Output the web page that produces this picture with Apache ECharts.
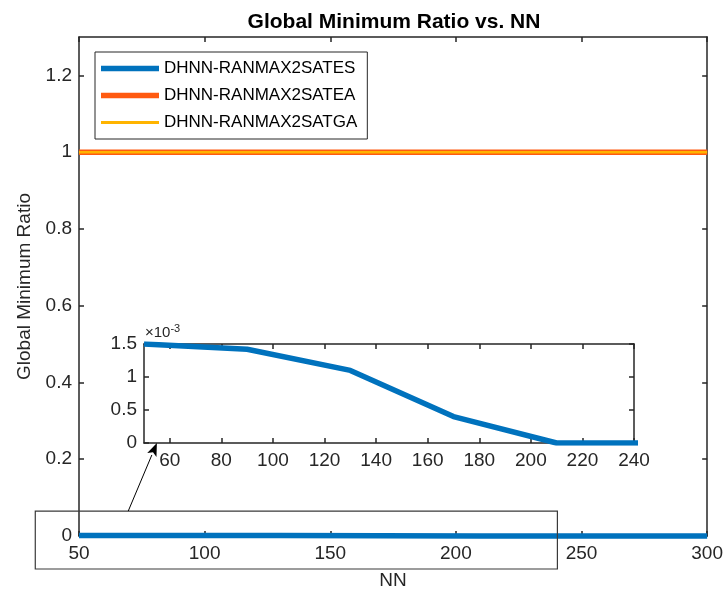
<!DOCTYPE html>
<html>
<head>
<meta charset="utf-8">
<script src="https://cdn.jsdelivr.net/npm/echarts@6/dist/echarts.min.js"></script>
<style>html,body{margin:0;padding:0;background:#fff}#c{width:726px;height:596px}</style>
</head>
<body>
<div id="c"></div>
<script>
const NN = [50, 90, 130, 170, 210, 250, 300];
const ES = [0.0015, 0.00142, 0.0011, 0.0004, 0, 0, 0];
const EA = [1, 1, 1, 1, 1, 1, 1];
const GA = [1, 1, 1, 1, 1, 1, 1];
const seriesNames = ['DHNN-RANMAX2SATES', 'DHNN-RANMAX2SATEA', 'DHNN-RANMAX2SATGA'];
const xTicks = [50, 100, 150, 200, 250, 300];
const yTicks = [0, 0.2, 0.4, 0.6, 0.8, 1, 1.2];
const insetXTicks = [60, 80, 100, 120, 140, 160, 180, 200, 220, 240];
const insetYTicks = [0, 0.0005, 0.001, 0.0015];

const FONT = 'Liberation Sans, Arial, Helvetica, sans-serif';
const AX = '#262626';
const BLUE = '#0072BD', ORANGE = '#FF5A10', YELLOW = '#FFB400';

const pairs = (xs, ys) => xs.map((x, i) => [x, ys[i]]);

function xAxisCfg(grid, pos, min, max, ticks, showLabels, extra) {
  return Object.assign({
    type: 'value', gridIndex: grid, position: pos, min: min, max: max,
    axisLine: { show: true, onZero: false, lineStyle: { color: AX, width: 1.5 } },
    axisTick: { show: true, inside: true, length: 5, customValues: ticks, lineStyle: { color: AX, width: 1.5 } },
    axisLabel: { show: showLabels, customValues: ticks, color: AX, fontSize: 19, fontFamily: FONT, margin: 8 },
    splitLine: { show: false }
  }, extra || {});
}
function yAxisCfg(grid, pos, min, max, ticks, showLabels, fmt, extra) {
  return Object.assign({
    type: 'value', gridIndex: grid, position: pos, min: min, max: max,
    axisLine: { show: true, onZero: false, lineStyle: { color: AX, width: 1.5 } },
    axisTick: { show: true, inside: true, length: 5, customValues: ticks, lineStyle: { color: AX, width: 1.5 } },
    axisLabel: { show: showLabels, customValues: ticks, color: AX, fontSize: 19, fontFamily: FONT, margin: 7, formatter: fmt },
    splitLine: { show: false }
  }, extra || {});
}

const chart = echarts.init(document.getElementById('c'), null, { renderer: 'canvas' });
const option = {
  animation: false,
  backgroundColor: '#fff',
  title: {
    text: 'Global Minimum Ratio vs. NN', left: 389, top: 7, textAlign: 'center',
    textStyle: { fontFamily: FONT, fontSize: 21, fontWeight: 'bold', color: '#000' }
  },
  legend: {
    left: 95, top: 52, orient: 'vertical', symbolKeepAspect: true,
    data: [
      { name: seriesNames[0], icon: 'path://M0,0 L58,0 L58,5.5 L0,5.5 Z' },
      { name: seriesNames[1], icon: 'path://M0,0 L58,0 L58,5.5 L0,5.5 Z' },
      { name: seriesNames[2], icon: 'path://M0,0 L58,0 L58,3 L0,3 Z' }
    ],
    itemWidth: 58, itemHeight: 14, itemGap: 10, itemTextGap: 5,
    padding: [8, 10, 8, 6], borderColor: AX, borderWidth: 1, backgroundColor: '#fff',
    textStyle: { fontFamily: FONT, fontSize: 17, color: '#000' }
  },
  grid: [
    { left: 79, right: 15, top: 37, bottom: 60 },
    { left: 144, right: 92, top: 344, bottom: 153 }
  ],
  xAxis: [
    xAxisCfg(0, 'bottom', 50, 300, xTicks, true, {
      name: 'NN', nameLocation: 'middle', nameGap: 35,
      nameTextStyle: { fontFamily: FONT, fontSize: 19, color: AX }
    }),
    xAxisCfg(0, 'top', 50, 300, xTicks, false),
    xAxisCfg(1, 'bottom', 50, 240, insetXTicks, true, {}),
    xAxisCfg(1, 'top', 50, 240, insetXTicks, false)
  ],
  yAxis: [
    yAxisCfg(0, 'left', 0, 1.3, yTicks, true, v => String(+v.toFixed(1)), {
      name: 'Global Minimum Ratio', nameLocation: 'middle', nameGap: 44,
      nameTextStyle: { fontFamily: FONT, fontSize: 19, color: AX }
    }),
    yAxisCfg(0, 'right', 0, 1.3, yTicks, false),
    yAxisCfg(1, 'left', 0, 0.0015, insetYTicks, true, v => String(+(v * 1000).toFixed(1))),
    yAxisCfg(1, 'right', 0, 0.0015, insetYTicks, false)
  ],
  series: [
    { name: seriesNames[1], type: 'line', xAxisIndex: 0, yAxisIndex: 0, data: pairs(NN, EA),
      symbol: 'none', clip: false, lineStyle: { color: ORANGE, width: 5.5 }, itemStyle: { color: ORANGE }, z: 2 },
    { name: seriesNames[2], type: 'line', xAxisIndex: 0, yAxisIndex: 0, data: pairs(NN, GA),
      symbol: 'none', clip: false, lineStyle: { color: YELLOW, width: 2.5 }, itemStyle: { color: YELLOW }, z: 3 },
    { name: seriesNames[0], type: 'line', xAxisIndex: 0, yAxisIndex: 0, data: pairs(NN, ES),
      symbol: 'none', clip: false, lineStyle: { color: BLUE, width: 5.5 }, itemStyle: { color: BLUE }, z: 4 },
    { name: seriesNames[0] + ' (zoom)', type: 'line', xAxisIndex: 2, yAxisIndex: 2, data: pairs(NN, ES),
      symbol: 'none', clip: true, lineStyle: { color: BLUE, width: 5.5 }, itemStyle: { color: BLUE }, z: 4 }
  ]
};
chart.setOption(option);

// Annotation: zoom rectangle (in main-axes data units) and arrow to the inset
const zoomRect = { x0: 32.6, x1: 240.4, y0: -0.086, y1: 0.065 };
const arrowFrom = [69.6, 0.065];   // main axes
const arrowTo = [55, 0];           // inset axes
const p0 = chart.convertToPixel({ xAxisIndex: 0, yAxisIndex: 0 }, [zoomRect.x0, zoomRect.y1]);
const p1 = chart.convertToPixel({ xAxisIndex: 0, yAxisIndex: 0 }, [zoomRect.x1, zoomRect.y0]);
const a0 = chart.convertToPixel({ xAxisIndex: 0, yAxisIndex: 0 }, arrowFrom);
const a1 = chart.convertToPixel({ xAxisIndex: 2, yAxisIndex: 2 }, arrowTo);
const ang = Math.atan2(a1[1] - a0[1], a1[0] - a0[0]);
const hl = 13, hw = 5;
const bx = a1[0] - hl * Math.cos(ang), by = a1[1] - hl * Math.sin(ang);
const nx = -Math.sin(ang), ny = Math.cos(ang);
const insetTopLeft = chart.convertToPixel({ xAxisIndex: 2, yAxisIndex: 2 }, [50, 0.0015]);
chart.setOption({
  graphic: [
    { type: 'rect', z: 100, shape: { x: p0[0], y: p0[1], width: p1[0] - p0[0], height: p1[1] - p0[1] },
      style: { fill: 'none', stroke: '#3a3a3a', lineWidth: 1.2 } },
    { type: 'line', z: 100, shape: { x1: a0[0], y1: a0[1], x2: bx, y2: by }, style: { stroke: '#000', lineWidth: 1 } },
    { type: 'polygon', z: 100, shape: { points: [[a1[0], a1[1]], [bx + nx * hw, by + ny * hw], [bx + 3 * Math.cos(ang), by + 3 * Math.sin(ang)], [bx - nx * hw, by - ny * hw]] },
      style: { fill: '#000' } },
    { type: 'text', z: 100, x: insetTopLeft[0] + 1, y: insetTopLeft[1] - 1,
      style: { text: '{a|×10}{b|-3}', textVerticalAlign: 'bottom',
        rich: { a: { fontFamily: FONT, fontSize: 15, fill: AX }, b: { fontFamily: FONT, fontSize: 11, fill: AX, verticalAlign: 'top', padding: [0, 0, 9, 0] } } } }
  ]
});
</script>
</body>
</html>
